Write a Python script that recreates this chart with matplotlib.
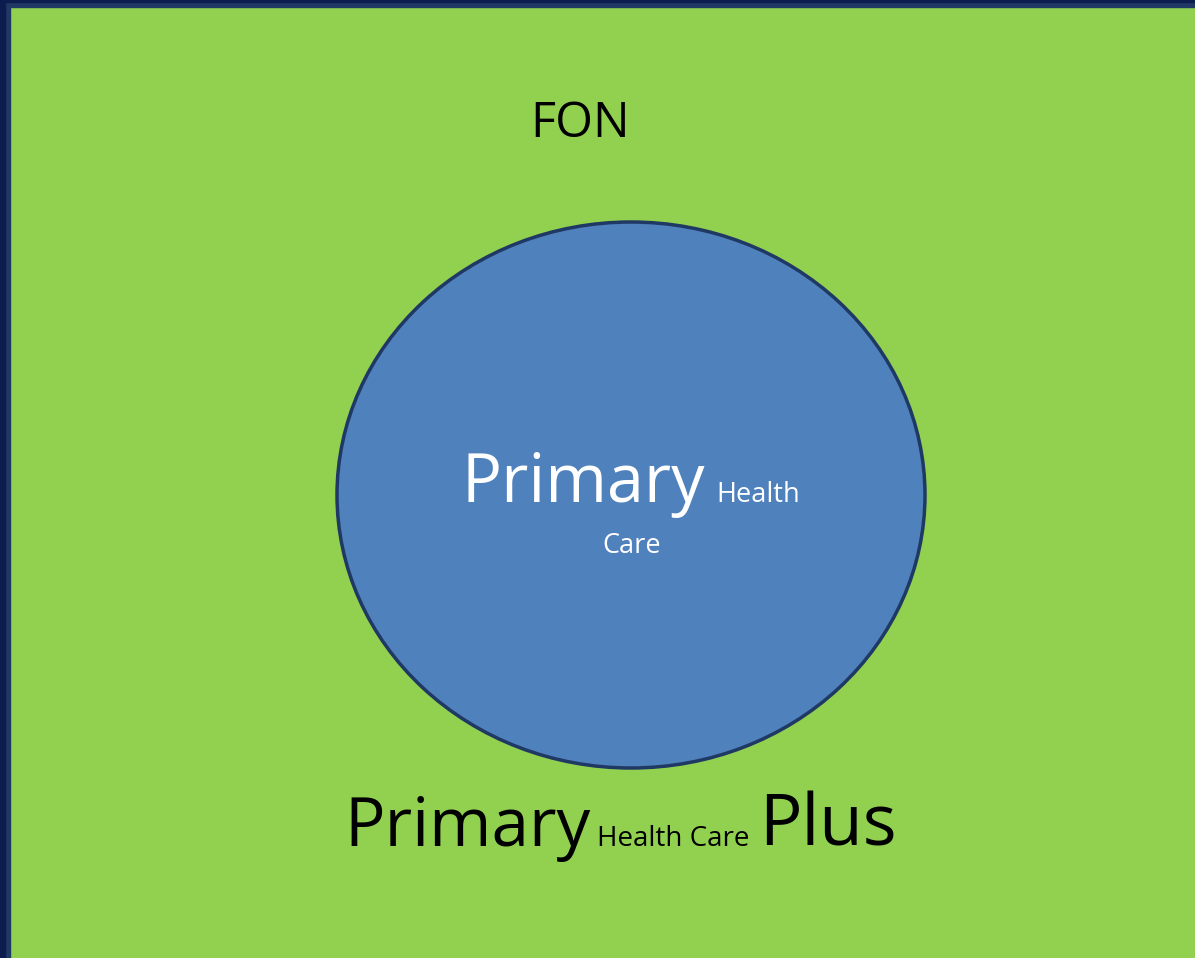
import matplotlib.pyplot as plt
from matplotlib.patches import Ellipse, Rectangle

plt.rcParams['font.family'] = ['Open Sans', 'DejaVu Sans']

W, H = 1195, 958

title = ['FON']
inner_words = ['Primary', 'Health', 'Care']
outer_words = ['Primary', 'Health Care', 'Plus']

fig = plt.figure(figsize=(W / 100, H / 100), dpi=100)
ax = fig.add_axes([0, 0, 1, 1])
ax.set_xlim(0, W)
ax.set_ylim(H, 0)
ax.axis('off')

# background and frame
ax.add_patch(Rectangle((0, 0), W, H, color='#92d050', zorder=0))
ax.add_patch(Rectangle((0, 0), 10, H, color='#1f3864', zorder=1))
ax.add_patch(Rectangle((0, 0), W, 7, color='#1f3864', zorder=1))
ax.add_patch(Rectangle((0, 0), 5, H, color='#0c1c4f', zorder=2))
ax.add_patch(Rectangle((0, 0), W, 2, color='#0c1c4f', zorder=2))

# circle
ax.add_patch(Ellipse((631, 495), 588, 546, facecolor='#4f81bd',
                     edgecolor='#1f3864', linewidth=2.5, zorder=3))

ax.text(530, 137, title[0], fontsize=35, color='black', va='baseline', zorder=4)

ax.text(462, 502, inner_words[0], fontsize=48, color='white', va='baseline', zorder=4)
ax.text(716, 502, inner_words[1], fontsize=19.5, color='white', va='baseline', zorder=4)
ax.text(602, 553, inner_words[2], fontsize=19.5, color='white', va='baseline', zorder=4)

ax.text(344, 846, outer_words[0], fontsize=48.5, color='black', va='baseline', zorder=4)
ax.text(597, 846, outer_words[1], fontsize=20, color='black', va='baseline', zorder=4)
ax.text(759, 846, outer_words[2], fontsize=51, color='black', va='baseline', zorder=4)

fig.savefig('out.png', dpi=100)
